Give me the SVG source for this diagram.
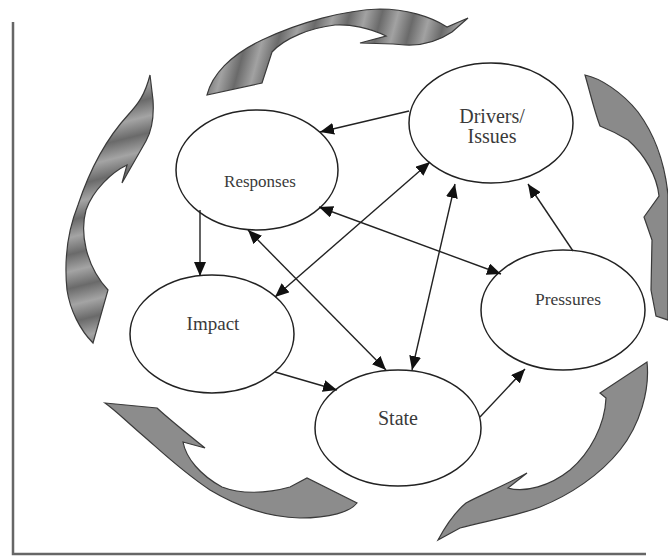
<svg xmlns="http://www.w3.org/2000/svg" width="668" height="559" viewBox="0 0 668 559">
<defs>
<style>
.node ellipse{fill:#fff;stroke:#222;stroke-width:1.5}
.node text{font-family:"Liberation Serif","Times New Roman",serif;fill:#3a3a3a;text-anchor:middle}
.conn line{stroke:#222;stroke-width:1.4;fill:none}
.sw{stroke:#3a3a3a;stroke-width:1.2}
</style>
<marker id="ah" viewBox="0 0 14 12" markerWidth="14" markerHeight="12" refX="14" refY="6" orient="auto-start-reverse" markerUnits="userSpaceOnUse">
<path d="M0,0 L14,6 L0,12 z" fill="#111"/>
</marker>
<linearGradient id="bandX" gradientUnits="userSpaceOnUse" x1="0" y1="0" x2="30" y2="8" spreadMethod="repeat">
<stop offset="0" stop-color="#6a6a6a"/>
<stop offset="0.5" stop-color="#a2a2a2"/>
<stop offset="1" stop-color="#6a6a6a"/>
</linearGradient>
<linearGradient id="bandY" gradientUnits="userSpaceOnUse" x1="0" y1="0" x2="8" y2="32" spreadMethod="repeat">
<stop offset="0" stop-color="#6a6a6a"/>
<stop offset="0.5" stop-color="#a4a4a4"/>
<stop offset="1" stop-color="#6a6a6a"/>
</linearGradient>
</defs>
<rect width="668" height="559" fill="#fff"/>

<g id="frame" fill="none" stroke="#666" stroke-width="2.5">
<path d="M13,22 L13,554 L646,554"/>
</g>

<g id="cycle-arrows">
<path id="swoosh-top" class="sw" fill="url(#bandX)" d="M207,95 C212,75 230,55 262,40 C300,22 345,10 380,9 C405,9 430,16 447,27 L468,18 L452,32 C440,40 425,46 405,45 L393,44 L360,43 L386,36 C370,28 350,24 335,25 C310,28 285,38 272,52 L262,83 Z"/>
<path id="swoosh-right" class="sw" fill="#8a8a8a" d="M585,75 C600,78 622,92 638,112 C655,135 665,165 668,195 L668,320 L656,316 L651,290 L652,240 L644,217 L659,196 C657,176 645,155 628,140 C615,132 605,128 600,126 C594,110 590,92 585,75 Z"/>
<path id="swoosh-left" class="sw" fill="url(#bandY)" d="M150,75 L153,100 C154,115 152,130 146,141 L122,183 L127,165 C112,172 93,190 86,210 C80,232 85,265 108,290 L93,343 C80,330 70,310 67,290 C64,260 68,230 78,205 C88,175 105,140 128,115 C138,104 145,95 150,75 Z"/>
<path id="swoosh-bottom-left" class="sw" fill="#8c8c8c" d="M105,403 L157,408 C170,420 185,432 205,448 L183,442 C186,458 200,475 222,487 C240,494 265,494 290,487 L307,478 L357,503 C350,512 330,518 300,518 C265,517 235,505 210,490 C180,470 160,450 140,433 C125,420 115,410 105,403 Z"/>
<path id="swoosh-bottom-right" class="sw" fill="#8c8c8c" d="M647,362 C650,390 640,425 620,450 C600,475 570,495 540,507 C510,518 480,522 460,528 L438,540 C445,527 455,512 466,503 C480,495 500,488 527,473 L508,488 C525,493 550,486 570,470 C590,453 605,425 606,398 L600,393 Z"/>
</g>

<g id="responses" class="node">
<ellipse cx="257" cy="170" rx="81" ry="60"/>
<text x="260" y="187" font-size="17">Responses</text>
</g>
<g id="drivers" class="node">
<ellipse cx="491" cy="123" rx="82" ry="60"/>
<text x="492" y="123" font-size="20">Drivers/</text>
<text x="492" y="143" font-size="20">Issues</text>
</g>
<g id="impact" class="node">
<ellipse cx="212" cy="334" rx="82" ry="59"/>
<text x="213" y="330" font-size="19">Impact</text>
</g>
<g id="state" class="node">
<ellipse cx="398" cy="428" rx="83" ry="58"/>
<text x="398" y="425" font-size="20">State</text>
</g>
<g id="pressures" class="node">
<ellipse cx="563" cy="310" rx="82" ry="60"/>
<text x="568" y="305" font-size="17.5">Pressures</text>
</g>

<g id="connectors" class="conn">
<line x1="409" y1="111" x2="320" y2="132" marker-end="url(#ah)"/>
<line x1="200" y1="210" x2="200" y2="276" marker-end="url(#ah)"/>
<line x1="248" y1="230" x2="386" y2="370" marker-start="url(#ah)" marker-end="url(#ah)"/>
<line x1="430" y1="162" x2="275" y2="297" marker-start="url(#ah)" marker-end="url(#ah)"/>
<line x1="455" y1="184" x2="412" y2="370" marker-start="url(#ah)" marker-end="url(#ah)"/>
<line x1="319" y1="207" x2="501" y2="274" marker-start="url(#ah)" marker-end="url(#ah)"/>
<line x1="573" y1="251" x2="528" y2="184" marker-end="url(#ah)"/>
<line x1="275" y1="372" x2="337" y2="390" marker-end="url(#ah)"/>
<line x1="480" y1="417" x2="525" y2="369" marker-end="url(#ah)"/>
</g>
</svg>
